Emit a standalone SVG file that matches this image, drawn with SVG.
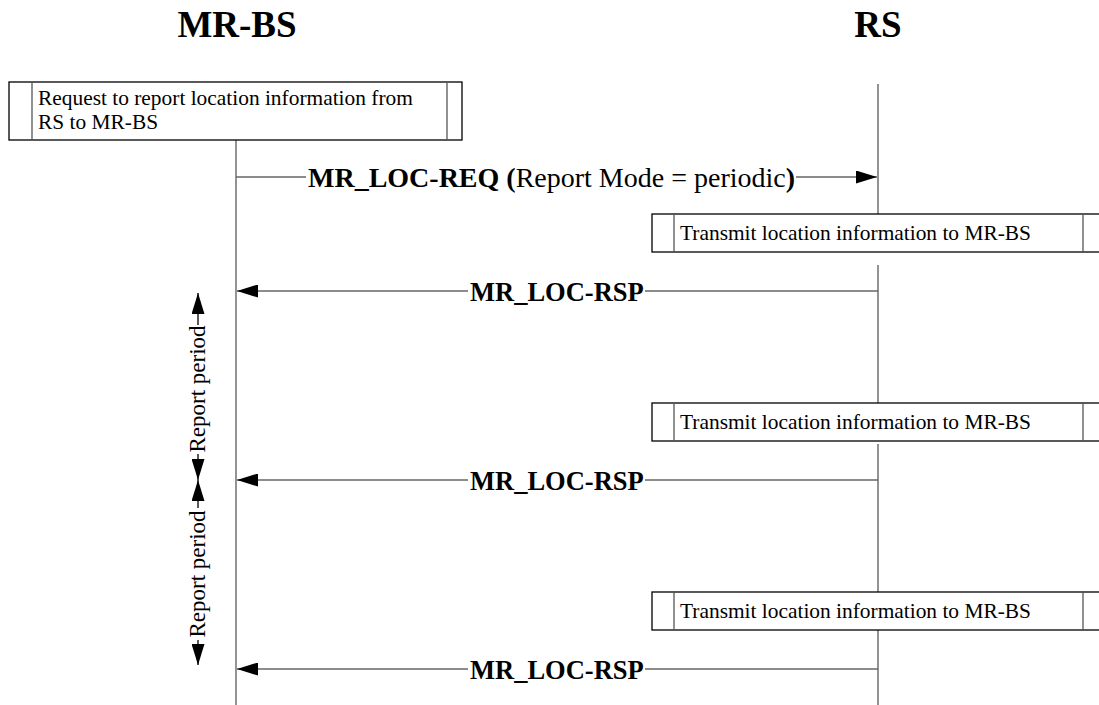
<svg xmlns="http://www.w3.org/2000/svg" width="1099" height="705" viewBox="0 0 1099 705">
<style>
  text { font-family: "Liberation Serif", "Times New Roman", serif; fill: #000; }
  .hdr { font-size: 37px; font-weight: bold; text-anchor: middle; }
  .box { fill: #fff; stroke: #000; stroke-width: 1.3; }
  .div { stroke: #555; stroke-width: 1.3; }
  .small { font-size: 21.4px; }
  .life { stroke: #666; stroke-width: 1.4; fill: none; }
  .msg { stroke: #666; stroke-width: 1.4; fill: none; }
  .msgtxt { font-size: 26.5px; font-weight: bold; }
  .per { stroke: #000; stroke-width: 1.3; fill: none; }
  .pertxt { font-size: 23px; text-anchor: middle; }
</style>
<defs>
  <marker id="ah" viewBox="0 0 21 13" refX="21" refY="6.5" markerWidth="21" markerHeight="13" markerUnits="userSpaceOnUse" orient="auto">
    <path d="M0,0 L21,6.5 L0,13 Z" fill="#000"/>
  </marker>
</defs>
<rect width="1099" height="705" fill="#fff"/>

<g id="mrbs">
  <text class="hdr" x="237" y="37">MR-BS</text>
  <line class="life" x1="236" y1="140" x2="236" y2="705"/>
</g>
<g id="rs">
  <text class="hdr" x="878" y="37">RS</text>
  <path class="life" d="M878,84 V214 M878,265 V403 M878,444 V592 M878,630 V705"/>
</g>

<g id="req-box">
  <rect class="box" x="9" y="82" width="453" height="58"/>
  <line class="div" x1="32" y1="82" x2="32" y2="140"/>
  <line class="div" x1="447" y1="82" x2="447" y2="140"/>
  <text class="small" x="38" y="105">Request to report location information from</text>
  <text class="small" x="38" y="129">RS to MR-BS</text>
</g>

<g id="tx1">
  <rect class="box" x="652" y="214" width="460" height="38"/>
  <line class="div" x1="674" y1="214" x2="674" y2="252"/>
  <line class="div" x1="1083" y1="214" x2="1083" y2="252"/>
  <text class="small" x="680" y="240">Transmit location information to MR-BS</text>
</g>
<g id="tx2">
  <rect class="box" x="652" y="403" width="460" height="38"/>
  <line class="div" x1="674" y1="403" x2="674" y2="441"/>
  <line class="div" x1="1083" y1="403" x2="1083" y2="441"/>
  <text class="small" x="680" y="429">Transmit location information to MR-BS</text>
</g>
<g id="tx3">
  <rect class="box" x="652" y="592" width="460" height="38"/>
  <line class="div" x1="674" y1="592" x2="674" y2="630"/>
  <line class="div" x1="1083" y1="592" x2="1083" y2="630"/>
  <text class="small" x="680" y="618">Transmit location information to MR-BS</text>
</g>

<g id="connectors">
  <!-- MR_LOC-REQ -->
  <line class="msg" x1="236" y1="177" x2="306" y2="177"/>
  <line class="msg" x1="796" y1="177" x2="877" y2="177" marker-end="url(#ah)"/>
  <text x="308" y="187" font-size="28"><tspan font-weight="bold">MR_LOC-REQ (</tspan>Report Mode = periodic<tspan font-weight="bold">)</tspan></text>

  <!-- MR_LOC-RSP 1 -->
  <line class="msg" x1="878" y1="291" x2="645" y2="291"/>
  <line class="msg" x1="468" y1="291" x2="237" y2="291" marker-end="url(#ah)"/>
  <text class="msgtxt" x="470" y="301">MR_LOC-RSP</text>

  <!-- MR_LOC-RSP 2 -->
  <line class="msg" x1="878" y1="480" x2="645" y2="480"/>
  <line class="msg" x1="468" y1="480" x2="237" y2="480" marker-end="url(#ah)"/>
  <text class="msgtxt" x="470" y="490">MR_LOC-RSP</text>

  <!-- MR_LOC-RSP 3 -->
  <line class="msg" x1="878" y1="669" x2="645" y2="669"/>
  <line class="msg" x1="468" y1="669" x2="237" y2="669" marker-end="url(#ah)"/>
  <text class="msgtxt" x="470" y="679">MR_LOC-RSP</text>

  <!-- Report period 1 -->
  <line class="per" x1="198" y1="325" x2="198" y2="293" marker-end="url(#ah)"/>
  <line class="per" x1="198" y1="454" x2="198" y2="480" marker-end="url(#ah)"/>
  <text class="pertxt" transform="translate(198,389) rotate(-90)" y="7">Report period</text>

  <!-- Report period 2 -->
  <line class="per" x1="198" y1="508" x2="198" y2="480" marker-end="url(#ah)"/>
  <line class="per" x1="198" y1="640" x2="198" y2="665" marker-end="url(#ah)"/>
  <text class="pertxt" transform="translate(198,574) rotate(-90)" y="7">Report period</text>
</g>
</svg>
